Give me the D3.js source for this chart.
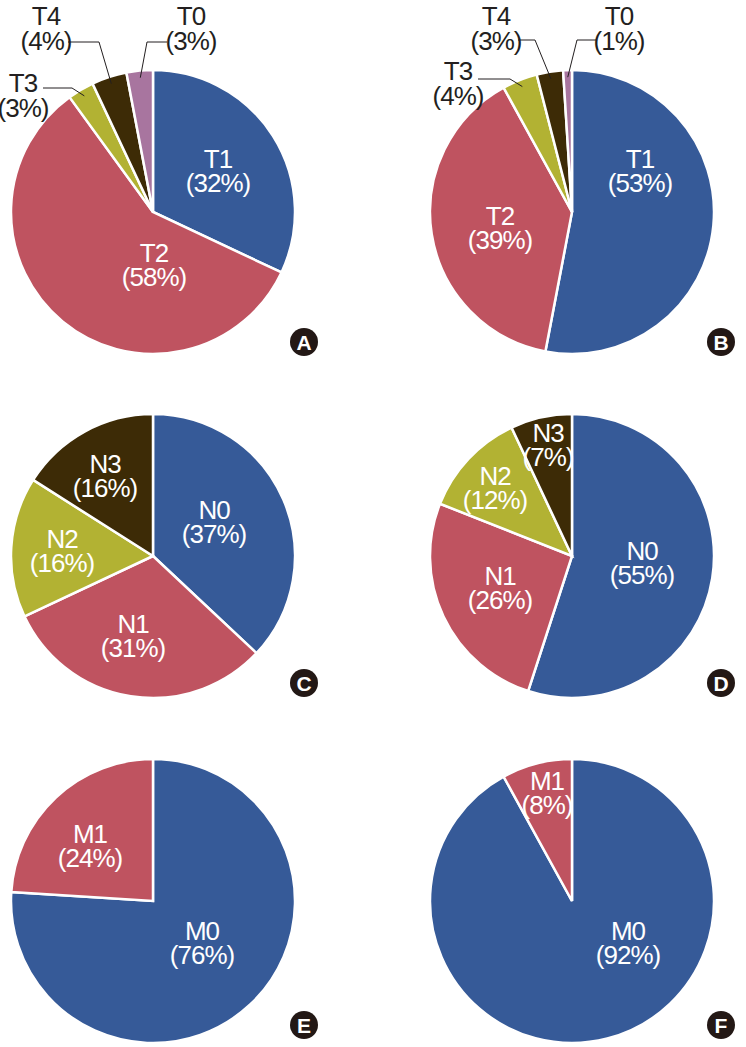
<!DOCTYPE html>
<html>
<head>
<meta charset="utf-8">
<script src="https://cdn.jsdelivr.net/npm/d3@7"></script>
<style>
  html, body { margin: 0; padding: 0; background: #fff; }
  svg { display: block; }
  .lbl { font-family: "Liberation Sans", Arial, sans-serif; font-size: 26px; letter-spacing: -1px; }
</style>
</head>
<body>
<div id="chart"></div>
<script>
// data
const tCategories = ['T1', 'T2', 'T3', 'T4', 'T0'];
const tValuesA = [32, 58, 3, 4, 3];
const tValuesB = [53, 39, 4, 3, 1];
const nCategories = ['N0', 'N1', 'N2', 'N3'];
const nValuesC = [37, 31, 16, 16];
const nValuesD = [55, 26, 12, 7];
const mCategories = ['M0', 'M1'];
const mValuesE = [76, 24];
const mValuesF = [92, 8];
const panelLetters = ['A', 'B', 'C', 'D', 'E', 'F'];

const width = 746, height = 1047;
const radius = 142;
const colX = [153, 572];
const rowY = [212, 556, 901];
const badgeX = [304, 721];
const badgeY = [342, 683, 1025];

const color = d3.scaleOrdinal()
  .domain(['T1', 'T2', 'T3', 'T4', 'T0', 'N0', 'N1', 'N2', 'N3', 'M0', 'M1'])
  .range(['#365a98', '#bf5360', '#b2b233', '#3d2b06', '#a8759f',
          '#365a98', '#bf5360', '#b2b233', '#3d2b06',
          '#365a98', '#bf5360']);

// label layout (offsets from pie centre, first-line baseline)
const panels = [
  { cats: tCategories, vals: tValuesA,
    inside: { T1: [65, -44], T2: [1, 50] },
    outside: {
      T3: { tx: -130, ty: -120, ly: -124, lx: -110, ex: -81 },
      T4: { tx: -107, ty: -187, ly: -170, lx: -85, ex: -54 },
      T0: { tx: 38, ty: -187, ly: -170, lx: 14, ex: -6 }
    } },
  { cats: tCategories, vals: tValuesB,
    inside: { T1: [68, -44], T2: [-72, 13] },
    outside: {
      T3: { tx: -114, ty: -132, ly: -133, lx: -94, ex: -62 },
      T4: { tx: -76, ty: -187, ly: -172, lx: -54, ex: -37 },
      T0: { tx: 47, ty: -187, ly: -172, lx: 25, ex: 5 }
    } },
  { cats: nCategories, vals: nValuesC,
    inside: { N0: [61, -37], N1: [-20, 77], N2: [-91, -8], N3: [-48, -83] } },
  { cats: nCategories, vals: nValuesD,
    inside: { N0: [70, 4], N1: [-72, 29], N2: [-77, -71], N3: [-24, -114] } },
  { cats: mCategories, vals: mValuesE,
    inside: { M0: [49, 39], M1: [-63, -58] } },
  { cats: mCategories, vals: mValuesF,
    inside: { M0: [56, 39], M1: [-25, -111] } }
];

const svg = d3.select('#chart').append('svg')
  .attr('width', width)
  .attr('height', height);

svg.append('rect').attr('width', width).attr('height', height).attr('fill', '#fff');

const pie = d3.pie().sort(null).value(d => d.value);
const arc = d3.arc().innerRadius(0).outerRadius(radius);
const pointerArc = d3.arc().innerRadius(radius * 0.95).outerRadius(radius * 0.95);

panels.forEach((p, i) => {
  const cx = colX[i % 2], cy = rowY[Math.floor(i / 2)];
  const data = p.cats.map((c, k) => ({ cat: c, value: p.vals[k] }));
  const arcs = pie(data);

  const g = svg.append('g').attr('transform', `translate(${cx},${cy})`);

  g.selectAll('path.slice')
    .data(arcs)
    .enter()
    .append('path')
    .attr('class', 'slice')
    .attr('d', arc)
    .attr('fill', d => color(d.data.cat))
    .attr('stroke', '#fff')
    .attr('stroke-width', 2.5)
    .attr('stroke-linejoin', 'miter');

  // labels inside slices
  arcs.forEach(d => {
    const pos = p.inside[d.data.cat];
    if (!pos) return;
    const t = g.append('text')
      .attr('class', 'lbl')
      .attr('text-anchor', 'middle')
      .attr('fill', '#fff');
    t.append('tspan').attr('x', pos[0]).attr('y', pos[1]).text(d.data.cat);
    t.append('tspan').attr('x', pos[0]).attr('y', pos[1] + 24).text(`(${d.data.value}%)`);
  });

  // small slices labelled outside with leader lines
  if (p.outside) {
    arcs.forEach(d => {
      const o = p.outside[d.data.cat];
      if (!o) return;
      const end = pointerArc.centroid(d);
      g.append('polyline')
        .attr('points', [[o.lx, o.ly], [o.ex, o.ly], end].map(q => q.join(',')).join(' '))
        .attr('fill', 'none')
        .attr('stroke', '#231f20')
        .attr('stroke-width', 1);
      const t = g.append('text')
        .attr('class', 'lbl')
        .attr('text-anchor', 'middle')
        .attr('fill', '#231f20');
      t.append('tspan').attr('x', o.tx).attr('y', o.ty).text(d.data.cat);
      t.append('tspan').attr('x', o.tx).attr('y', o.ty + 25).text(`(${d.data.value}%)`);
    });
  }

  // panel badge
  const bx = badgeX[i % 2], by = badgeY[Math.floor(i / 2)];
  svg.append('circle')
    .attr('cx', bx).attr('cy', by).attr('r', 14)
    .attr('fill', '#231815');
  svg.append('text')
    .attr('x', bx).attr('y', by + 7.5)
    .attr('text-anchor', 'middle')
    .attr('fill', '#fff')
    .style('font-family', '"Liberation Sans", Arial, sans-serif')
    .style('font-weight', 'bold')
    .style('font-size', '21px')
    .text(panelLetters[i]);
});
</script>
</body>
</html>
